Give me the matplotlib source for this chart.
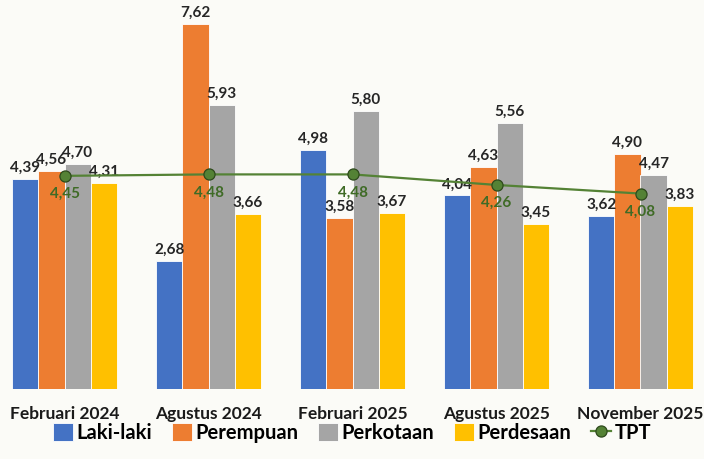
import matplotlib.pyplot as plt
import numpy as np

## Data

periode = ["Februari 2024", "Agustus 2024", "Februari 2025", "Agustus 2025", "November 2025"]
laki = [4.39, 2.68, 4.98, 4.04, 3.62]
perempuan = [4.56, 7.62, 3.58, 4.63, 4.90]
perkotaan = [4.70, 5.93, 5.80, 5.56, 4.47]
perdesaan = [4.31, 3.66, 3.67, 3.45, 3.83]
tpt = [4.45, 4.48, 4.48, 4.26, 4.08]

seri = [("Laki-laki", laki, "#4472C4"),
        ("Perempuan", perempuan, "#ED7D31"),
        ("Perkotaan", perkotaan, "#A5A5A5"),
        ("Perdesaan", perdesaan, "#FFC000")]

def fmt(v):
    return ("%.2f" % v).replace(".", ",")

## Plot

plt.rcParams['font.family'] = ['Lato', 'DejaVu Sans']
bg = "#FBFBF7"
fig = plt.figure(figsize=(7.04, 4.59), dpi=100, facecolor=bg)
ax = fig.add_axes([0, 70/459, 1, 389/459])
ax.set_facecolor(bg)

x = np.arange(len(periode))
w = 0.181
for k, (nama, vals, col) in enumerate(seri):
    pos = x + (k - 1.5) * w
    ax.bar(pos, vals, w, color=col, edgecolor="white", linewidth=0.6, label=nama, zorder=2)
    for p, v in zip(pos, vals):
        ax.annotate(fmt(v), (p, v), xytext=(0, 3), textcoords="offset points",
                    ha="center", va="bottom", fontsize=11, fontweight="bold", color="#262626")

ax.plot(x, tpt, color="#548235", linewidth=1.6, marker="o", markersize=8,
        markerfacecolor="#548235", markeredgecolor="#2E4A1C", markeredgewidth=0.9,
        label="TPT", zorder=4)
for p, v in zip(x, tpt):
    ax.annotate(fmt(v), (p, v), xytext=(0, -8), textcoords="offset points",
                ha="center", va="top", fontsize=11, fontweight="bold", color="#3F6B26", zorder=5)

ax.set_xlim(-64.5/144, (704-64.5)/144)
ax.set_ylim(0, 389/47.9)
ax.set_yticks([])
ax.set_xticks(x)
ax.set_xticklabels(periode, fontsize=12.5, fontweight="bold", color="#1a1a1a")
ax.tick_params(axis="x", length=0, pad=12)
for s in ax.spines.values():
    s.set_visible(False)

h, l = ax.get_legend_handles_labels()
urut = [1, 2, 3, 4, 0]
fig.legend([h[i] for i in urut], [l[i] for i in urut], loc="center",
           bbox_to_anchor=(0.5, 1 - 433/459), ncol=5, frameon=False,
           prop={"size": 14.5, "weight": "bold"}, handlelength=1.0, handleheight=1.0,
           handletextpad=0.15, columnspacing=1.0)

fig.savefig("out.png", dpi=100, facecolor=bg)
